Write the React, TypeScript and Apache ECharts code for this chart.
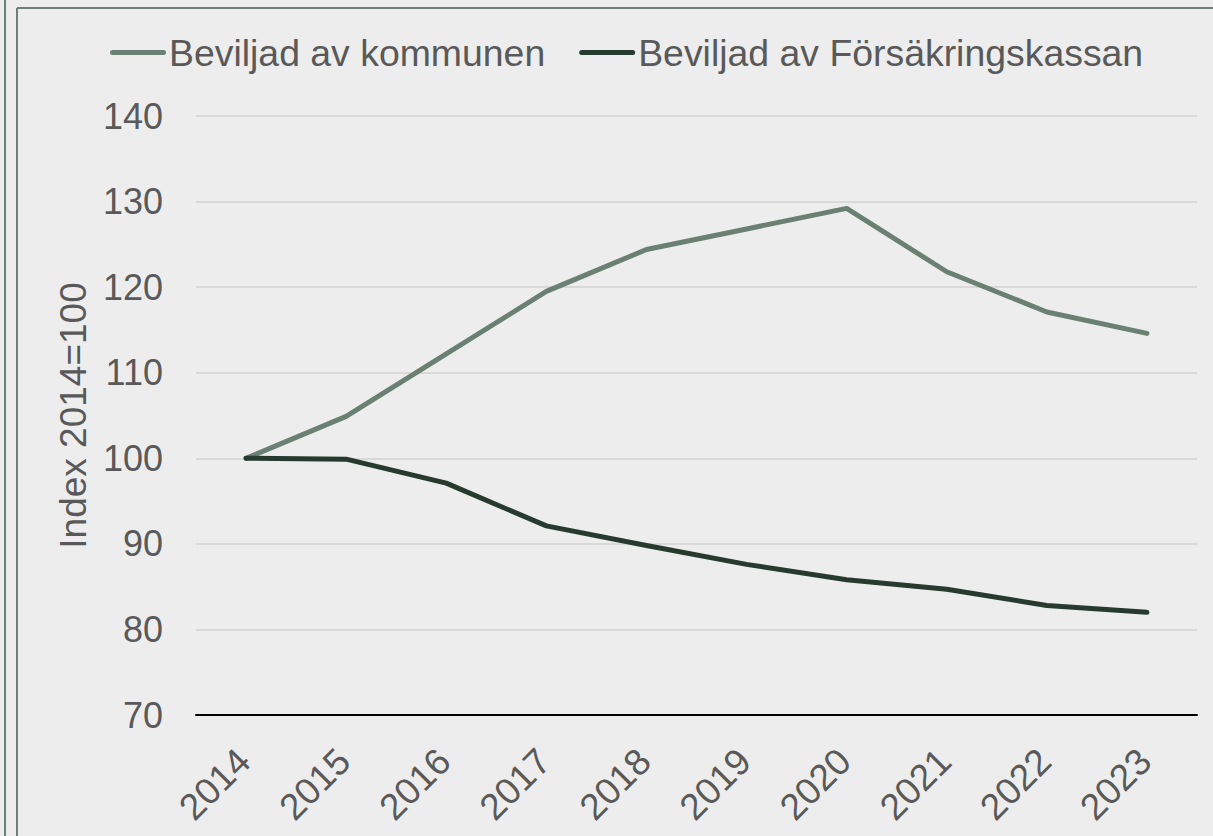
import React, { useEffect, useRef } from "react";
import * as echarts from "echarts";

const years = ["2014", "2015", "2016", "2017", "2018", "2019", "2020", "2021", "2022", "2023"];
const kommunen = [100, 104.9, 112.2, 119.5, 124.4, 126.8, 129.2, 121.8, 117.1, 114.6];
const forsakringskassan = [100, 99.9, 97.1, 92.1, 89.8, 87.6, 85.8, 84.7, 82.8, 82.0];
const seriesNames = ["Beviljad av kommunen", "Beviljad av Försäkringskassan"];
const yAxisName = "Index 2014=100";

const FONT = "'Liberation Sans', Arial, sans-serif";
const TEXT = "#595959";
const FRAME = "#6E8078";
const C1 = "#6A8073";
const C2 = "#263A30";
const ICON = "path://M2.5,0 L53.5,0 A2.5,2.5 0 0 1 53.5,5 L2.5,5 A2.5,2.5 0 0 1 2.5,0 Z";

export default function App() {
  const ref = useRef<HTMLDivElement>(null);
  useEffect(() => {
    document.body.style.margin = "0";
    const chart = echarts.init(ref.current!, undefined, { renderer: "svg" });
    chart.setOption({
      animation: false,
      backgroundColor: "#EDEDED",
      textStyle: { fontFamily: FONT },
      graphic: [
        { type: "line", shape: { x1: 5, y1: 0, x2: 5, y2: 836 }, style: { stroke: FRAME, lineWidth: 2 }, silent: true },
        { type: "line", shape: { x1: 17, y1: 8, x2: 17, y2: 836 }, style: { stroke: FRAME, lineWidth: 2 }, silent: true },
        { type: "line", shape: { x1: 17, y1: 8, x2: 1213, y2: 8 }, style: { stroke: FRAME, lineWidth: 2 }, silent: true },
      ],
      legend: {
        top: 34,
        left: 110,
        padding: 0,
        itemWidth: 56,
        itemHeight: 5,
        itemGap: 34,
        textStyle: { fontSize: 37.4, color: TEXT, fontFamily: FONT, padding: [0, 0, 0, -2] },
        data: [
          { name: seriesNames[0], icon: ICON, itemStyle: { color: C1 } },
          { name: seriesNames[1], icon: ICON, itemStyle: { color: C2 } },
        ],
      },
      grid: { left: 196, right: 16, top: 116, bottom: 121, containLabel: false },
      xAxis: {
        type: "category",
        data: years,
        boundaryGap: true,
        axisLine: { lineStyle: { color: "#000000", width: 2 } },
        axisTick: { show: false },
        axisLabel: { rotate: 45, fontSize: 37, color: TEXT, margin: 38, fontFamily: FONT, interval: 0, padding: [0, 3, 0, 0] },
      },
      yAxis: {
        type: "value",
        min: 70,
        max: 140,
        interval: 10,
        name: yAxisName,
        nameLocation: "middle",
        nameGap: 103,
        nameTextStyle: { fontSize: 37, color: TEXT, fontFamily: FONT },
        axisLine: { show: false },
        axisTick: { show: false },
        axisLabel: { fontSize: 36, color: TEXT, margin: 33, fontFamily: FONT },
        splitLine: { lineStyle: { color: "#D9D9D9", width: 2 } },
      },
      series: [
        {
          name: seriesNames[0],
          type: "line",
          data: kommunen,
          symbol: "none",
          lineStyle: { color: C1, width: 5, cap: "round", join: "round" },
          itemStyle: { color: C1 },
        },
        {
          name: seriesNames[1],
          type: "line",
          data: forsakringskassan,
          symbol: "none",
          lineStyle: { color: C2, width: 5, cap: "round", join: "round" },
          itemStyle: { color: C2 },
        },
      ],
    });
    return () => chart.dispose();
  }, []);
  return <div ref={ref} style={{ width: 1213, height: 836 }} />;
}
